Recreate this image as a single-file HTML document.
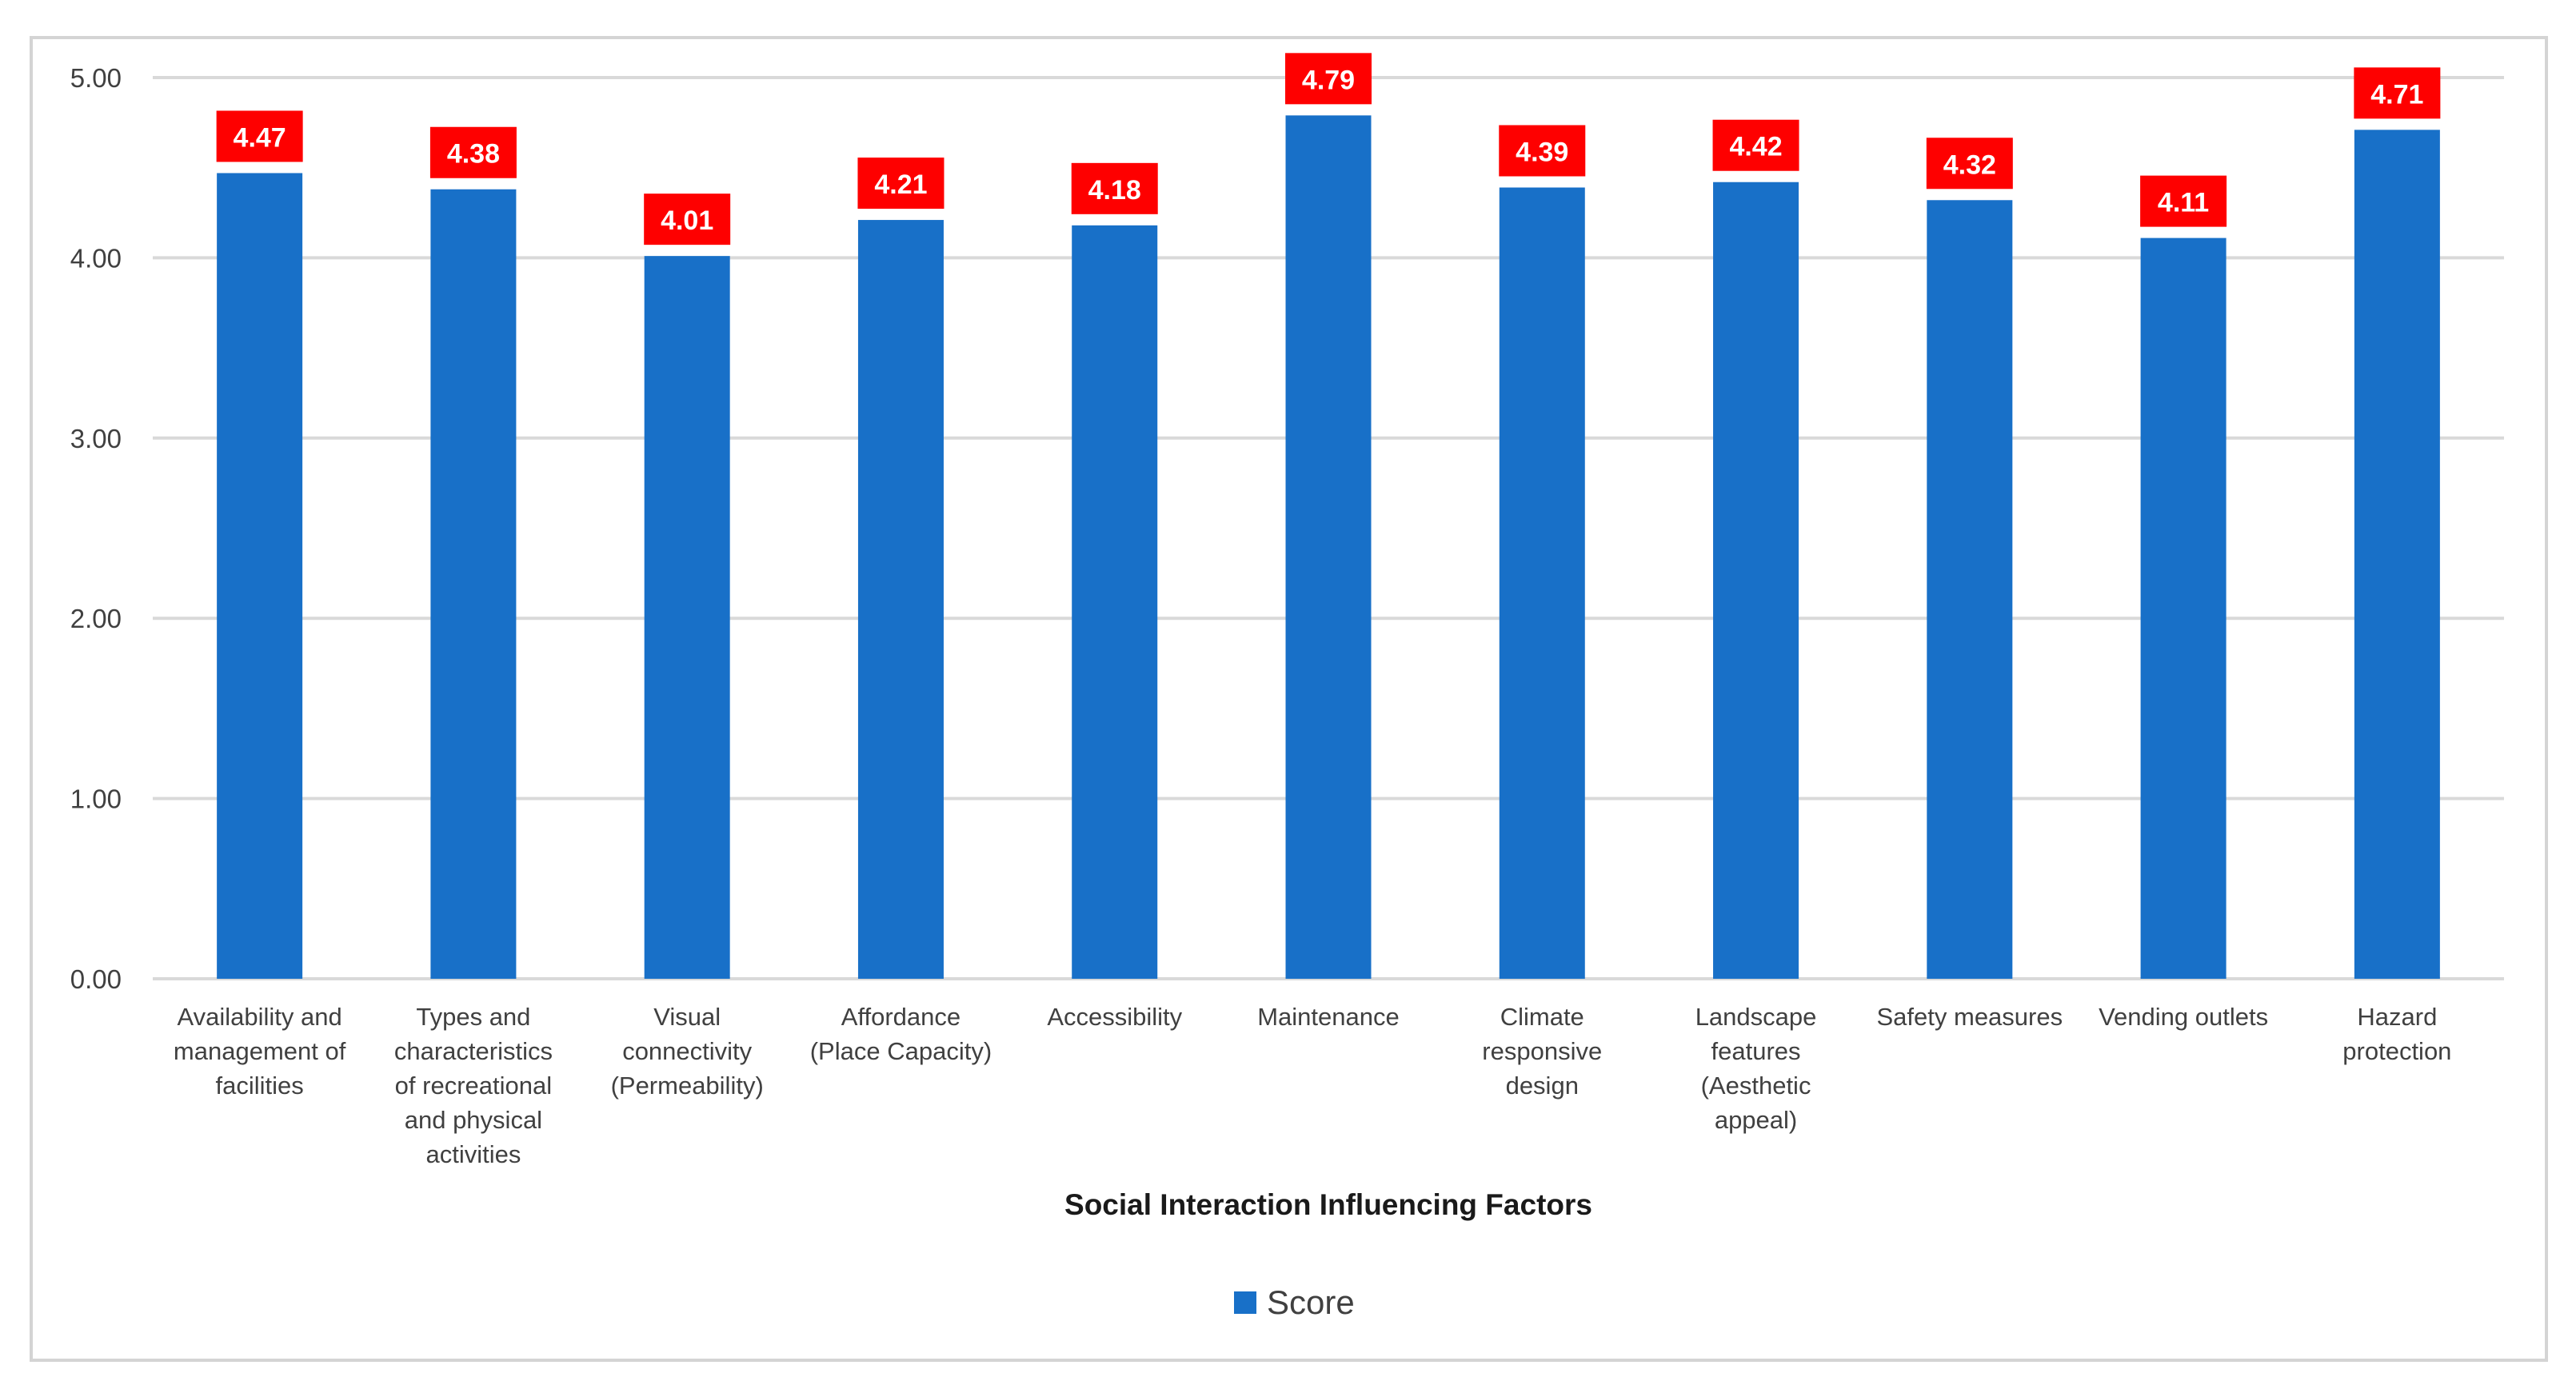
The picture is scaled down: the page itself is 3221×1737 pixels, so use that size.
<!DOCTYPE html>
<html><head><meta charset="utf-8">
<style>
html,body{margin:0;padding:0;background:#fff;}
svg{display:block;}
text{font-family:"Liberation Sans",sans-serif;}
</style></head>
<body>
<svg id="chart" width="3221" height="1737" viewBox="0 0 3221 1737" xmlns="http://www.w3.org/2000/svg">
  <rect x="39" y="47" width="3145" height="1654" fill="#fff" stroke="#d4d4d4" stroke-width="4"/>
  <g id="grid"></g>
  <g id="yticks"></g>
  <g id="bars"></g>
  <g id="labels"></g>
  <g id="xcats"></g>
  <text x="1661" y="1519" text-anchor="middle" font-size="37" font-weight="bold" fill="#1a1a1a">Social Interaction Influencing Factors</text>
  <g>
    <rect x="1543" y="1615" width="28" height="28" fill="#1870c8"/>
    <text x="1584" y="1643" font-size="42" fill="#404040">Score</text>
  </g>
</svg>
<script>
const categories = [
  ["Availability and","management of","facilities"],
  ["Types and","characteristics","of recreational","and physical","activities"],
  ["Visual","connectivity","(Permeability)"],
  ["Affordance","(Place Capacity)"],
  ["Accessibility"],
  ["Maintenance"],
  ["Climate","responsive","design"],
  ["Landscape","features","(Aesthetic","appeal)"],
  ["Safety measures"],
  ["Vending outlets"],
  ["Hazard","protection"]
];
const scores = [4.47,4.38,4.01,4.21,4.18,4.79,4.39,4.42,4.32,4.11,4.71];
const yTicks = [0,1,2,3,4,5];
const yTickLabels = ["0.00","1.00","2.00","3.00","4.00","5.00"];

const NS="http://www.w3.org/2000/svg";
const plotL=191, plotR=3131, y0=1224, y5=97;
const band=(plotR-plotL)/categories.length, barW=107;
function yScale(v){return y0-(v/5)*(y0-y5);}
function xCenter(i){return plotL+band*(i+0.5);}
function mk(tag,attrs,parent){const e=document.createElementNS(NS,tag);for(const k in attrs)e.setAttribute(k,attrs[k]);parent.appendChild(e);return e;}

const grid=document.getElementById('grid'), yt=document.getElementById('yticks');
yTicks.forEach((t,i)=>{
  const y=yScale(t);
  const l=mk('line',{x1:plotL,x2:plotR,y1:y,y2:y,stroke:'#d9d9d9','stroke-width':4},grid);
  
  
  const tx=mk('text',{x:152,y:y+12,'text-anchor':'end','font-size':33,fill:'#404040'},yt);
  tx.textContent=yTickLabels[i];
  
  
});

const bars=document.getElementById('bars'), labs=document.getElementById('labels'), xc=document.getElementById('xcats');
scores.forEach((v,i)=>{
  const cx=xCenter(i), top=yScale(v);
  const b=mk('rect',{x:cx-barW/2,y:top,width:barW,height:y0-top,fill:'#1870c8'},bars);
  
  
  const bx=mk('rect',{x:cx-54,y:top-78,width:108,height:64,fill:'#fe0000'},labs);
  
  
  const t=mk('text',{x:cx,y:top-33,'text-anchor':'middle','font-size':34,'font-weight':'bold',fill:'#fff'},labs);
  t.textContent=v.toFixed(2);
  
  
  const ct=mk('text',{x:cx,'text-anchor':'middle','font-size':31,fill:'#404040'},xc);
  
  
  categories[i].forEach((line,j)=>{
    const ts=mk('tspan',{x:cx,y:1282+j*43},ct);
    ts.textContent=line;
  });
});
</script>
</body></html>
